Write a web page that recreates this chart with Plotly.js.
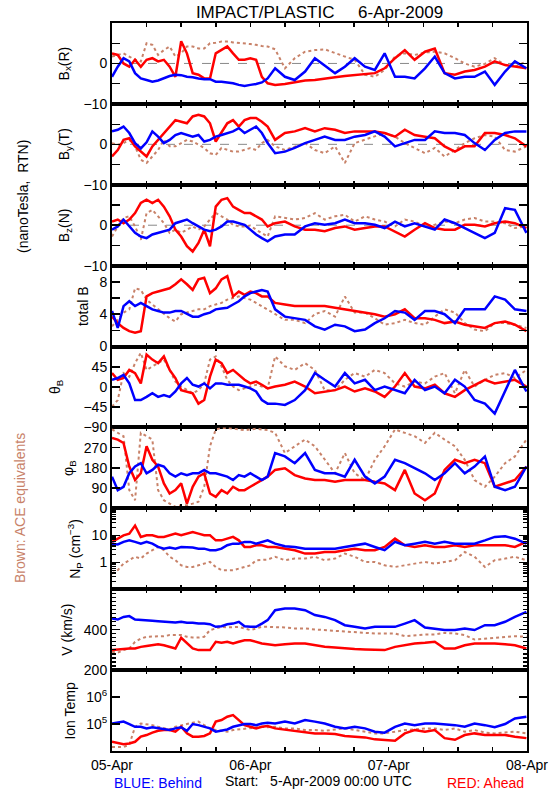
<!DOCTYPE html>
<html>
<head>
<meta charset="utf-8">
<script src="https://cdn.plot.ly/plotly-3.0.1.min.js"></script>
<style>
html,body{margin:0;padding:0;background:#fff;}
#chart{width:550px;height:800px;}
</style>
</head>
<body>
<div id="chart"></div>
<script>
// ---------- data ----------
// hours after 2009-04-05 00:00 UTC
const HOURS = [0,1,2,3,4,5,6,7,8,9,10,11,12,13,14,15,16,17,18,19,20,21,22,23,24,25,26,27,
  28.3,30,31.7,33.5,35.2,36.9,38.7,40.4,42.1,43.9,45.6,47.3,49.1,50.8,52.5,54.3,56,57.7,59.5,61.2,62.9,64.7,66.4,68.2,69.9,71.9];

const DAY_LABELS = ['05-Apr','06-Apr','07-Apr','08-Apr'];

const BX_BLUE = [-3.3,-0.8,1.3,0.5,-2.4,-3.7,-4.1,-4.5,-4.2,-3.7,-3.1,-2.8,-2.9,-3.3,-3.4,-3.7,-3.9,-3.9,-4.5,-4.5,-4.7,-4.9,-5.3,-5.6,-5.3,-5.1,-4.7,-3.7,
  -1.2,-3.3,-4.1,-2.0,1.3,-0.4,-2.4,-0.8,1.3,-0.8,-1.6,2.5,-3.3,-3.3,-3.7,-1.2,1.7,-2.4,-3.7,-3.3,-3.3,-2.0,-5.3,-2.0,0.5,-1.2];
const BX_RED = [2.5,2.1,0.0,-0.8,0.9,-0.8,0.9,1.3,0.5,0.9,-0.8,-3.3,5.5,2.5,-2.4,-2.8,-3.7,-3.7,2.5,3.3,4.2,2.5,0.9,0.9,1.3,0.9,-3.3,-4.9,
  -5.3,-5.1,-4.7,-4.2,-4.1,-3.7,-3.4,-3.1,-2.9,-2.6,-2.4,-1.2,1.3,3.3,0.9,2.9,3.7,-2.4,-2.8,-2.0,-1.6,-0.8,0.5,-0.4,-0.8,-1.2];
const BX_ACE = [1.7,2.1,2.5,1.7,0.9,0.5,5.0,4.6,2.1,3.3,4.2,1.7,2.5,4.2,4.2,3.7,3.7,5.0,5.1,5.4,5.4,5.2,5.1,5.0,4.8,4.6,4.3,4.2,
  3.5,-1.2,1.3,2.9,3.3,3.5,2.5,1.7,0.9,-2.8,-3.3,-1.6,1.7,2.5,2.1,2.7,2.9,2.5,1.3,0.0,-0.8,-0.1,1.3,-0.4,-0.8,0.5];

const BY_BLUE = [3.2,3.6,4.4,2.8,0.3,-1.0,0.5,3.2,1.9,0.3,1.1,2.3,2.8,2.3,1.9,2.3,0.7,1.1,1.9,2.3,2.8,3.2,4.0,2.8,3.6,4.4,2.8,0.3,
  -2.2,-1.8,-0.9,0.3,1.1,1.9,1.1,1.1,1.9,2.3,3.2,1.9,-0.5,0.3,1.1,1.1,3.2,2.8,2.8,2.3,0.3,-1.4,1.1,2.8,3.2,3.2];
const BY_RED = [-3.0,-1.4,1.1,1.5,-0.5,-1.8,-3.0,-0.5,1.1,2.8,4.4,6.0,5.6,5.2,6.9,7.3,6.9,5.2,0.7,2.8,5.2,6.0,4.4,6.0,6.5,6.5,5.6,4.4,
  1.1,2.8,3.2,4.0,3.2,4.0,3.6,2.8,3.2,3.2,3.2,2.8,1.9,3.6,2.3,1.9,1.5,-0.5,-1.8,-0.5,-0.5,2.8,2.8,2.3,1.5,-0.5];
const BY_ACE = [0.3,-0.1,0.3,1.1,-0.5,-3.8,-4.6,-3.0,-1.4,1.1,-0.5,-0.5,0.3,1.1,0.7,-0.1,-0.9,-2.2,-2.6,-0.9,-1.4,-1.8,-1.8,-1.4,-0.9,-1.4,0.3,1.1,
  -0.5,-1.4,-0.5,0.3,-1.4,-2.2,-0.5,-4.6,0.3,1.1,1.9,2.8,1.9,0.3,-0.9,-2.2,-0.9,-3.0,-1.4,0.3,1.5,2.3,1.9,-1.4,-1.8,-0.5];

const BZ_BLUE = [-1.1,-0.3,1.4,-0.3,-1.9,-2.8,-3.2,-2.3,-1.9,-1.5,-1.1,0.5,0.9,1.4,0.5,-0.3,-1.1,-1.5,-1.1,-0.3,0.9,0.9,0.5,0.1,-1.1,-2.3,-3.2,-4.0,
  -2.8,-2.3,-2.3,-0.3,0.5,0.1,0.5,1.4,0.5,0.5,0.1,-0.7,0.9,-0.3,0.5,-0.3,-1.1,1.4,0.5,-0.7,-1.9,-3.2,-1.9,4.2,3.8,-1.9];
const BZ_RED = [0.9,1.4,0.5,1.4,3.0,5.5,6.3,5.5,6.3,4.6,2.2,-1.1,-2.8,-5.2,-6.5,-4.4,-1.1,-5.2,4.6,6.3,6.7,4.6,3.8,3.0,3.0,2.2,1.4,-0.3,
  0.5,0.9,-0.3,-1.1,-1.1,-1.5,-0.7,-0.3,-1.1,-0.7,-0.3,-0.3,-1.5,-2.8,-1.1,0.5,-0.7,-1.1,-1.1,0.1,0.1,-0.3,0.5,0.9,0.5,-0.7];
const BZ_ACE = [-2.8,-0.3,1.8,2.2,-0.3,-3.6,3.0,3.8,2.2,0.5,-1.9,-1.1,-1.9,-1.1,-0.3,-1.1,-0.3,1.4,3.0,2.2,1.4,0.1,-0.3,-0.3,-0.1,-1.1,-1.9,-2.8,
  2.2,1.8,1.4,1.8,3.0,1.4,2.2,2.6,0.9,2.2,1.4,0.9,-0.3,1.4,0.9,-0.3,0.1,0.9,0.5,1.4,1.8,0.9,0.9,0.5,-0.7,-0.3];

const B_BLUE = [4.4,2.3,5.0,5.6,5.0,5.4,5.0,4.6,4.4,4.2,4.2,4.4,4.4,4.0,3.7,3.7,4.0,4.2,4.6,4.7,4.8,5.2,5.6,6.2,6.6,6.8,7.0,6.8,
  4.6,3.7,3.5,3.3,2.5,2.1,2.7,2.5,1.9,2.1,2.9,3.5,4.4,4.2,3.3,4.4,4.4,4.0,2.9,4.6,4.6,4.6,6.2,5.8,4.6,4.4];
const B_RED = [3.7,2.9,2.3,1.9,1.7,1.9,6.2,6.6,6.8,7.0,7.2,7.7,8.3,7.7,7.0,8.3,8.5,6.6,7.2,8.3,8.7,6.2,6.8,6.4,6.8,6.6,6.2,6.2,
  5.4,5.2,5.0,5.0,5.0,5.0,4.8,4.6,4.4,4.2,4.0,3.7,4.0,4.6,3.5,3.5,3.3,2.9,3.1,2.7,2.5,2.3,2.9,3.1,2.7,1.9];
const B_ACE = [2.5,3.3,4.2,4.6,7.2,7.0,5.8,5.2,4.6,4.0,3.5,3.1,4.0,4.2,4.4,4.6,4.6,5.0,5.2,5.4,5.8,6.0,6.2,6.0,5.8,5.4,5.0,4.6,
  4.0,3.3,3.3,2.9,4.0,4.4,3.7,6.2,4.2,4.2,3.5,2.7,2.9,3.3,2.9,2.7,3.7,4.6,4.2,2.9,2.1,1.9,2.9,2.9,2.7,2.3];

const TH_BLUE = [16,20,27,8,-29,-29,-22,-14,-22,-18,-22,-10,8,20,5,1,8,-3,8,8,5,5,5,1,-3,-10,-29,-37,
  -37,-40,-29,-7,31,16,1,31,8,16,-7,1,-7,-14,16,-7,1,-14,16,1,-29,-37,-59,-10,38,-10];
const TH_RED = [31,16,20,38,31,8,72,61,53,68,38,20,-7,-10,-14,-37,-29,23,61,53,31,38,27,16,8,12,5,-3,
  1,5,12,1,-14,-10,-7,1,-10,-3,-10,-22,1,31,1,-3,5,-14,-22,-7,5,16,8,12,16,1];
const TH_ACE = [-44,-29,31,23,53,76,38,46,53,61,38,12,1,-7,-14,-7,8,61,68,46,16,1,-7,-3,1,5,1,-3,
  68,46,38,53,38,-7,-7,16,31,23,38,31,8,1,12,8,23,31,-14,38,1,16,27,31,20,38];

const PH_BLUE = [141,81,96,156,186,201,156,171,194,186,156,141,156,148,156,156,171,156,156,148,141,126,148,141,156,141,126,141,
  246,231,201,246,171,156,156,141,216,141,111,141,216,201,178,156,126,156,201,156,186,231,96,81,96,186];
const PH_RED = [313,306,291,186,126,156,276,216,186,111,66,81,111,21,96,141,156,66,51,81,66,96,81,81,96,111,126,141,
  171,178,148,133,126,126,118,126,126,126,118,111,81,171,66,36,66,171,216,201,216,201,96,111,126,186];
const PH_ACE = [351,336,321,81,36,336,321,306,81,36,21,6,14,14,21,29,96,276,351,358,358,354,351,348,351,354,351,348,
  336,246,276,306,276,216,156,246,156,126,216,276,351,336,321,291,336,306,276,216,126,96,141,201,231,306];

const NP_BLUE = [4.9,4.6,5.7,6.5,5.7,4.9,5.7,4.9,3.7,3.2,3.5,3.2,3.7,3.7,3.5,3.2,3.2,2.8,2.8,3.2,4.3,4.9,4.9,5.7,5.7,4.9,5.7,6.5,
  4.9,3.9,3.7,3.2,3.2,3.2,3.2,3.7,4.3,4.9,3.7,2.8,5.7,4.3,4.9,5.7,4.9,5.7,4.9,4.9,4.9,6.5,8.7,9.2,7.5,4.9];
const NP_RED = [5.7,7.5,10,11.5,23,8.7,10,10,8.7,8.7,10,11.5,10,11.5,13.3,11.5,10,10,6.5,6.5,7.5,8.7,6.5,3.7,3.7,4.3,4.3,3.7,
  3.7,3.2,2.8,2.1,2.1,2.4,2.4,2.8,3.2,2.8,2.8,3.7,7.5,4.3,3.7,4.3,3.7,3.7,4.3,3.7,4.3,4.3,4.3,4.3,3.7,5.7];
const NP_ACE = [0.38,0.51,0.89,1.19,1.6,1.37,2.1,2.8,3.7,2.8,1.6,1.19,0.77,0.67,0.67,0.77,0.89,1.03,0.67,0.51,0.51,0.51,0.58,0.67,0.77,1.19,1.19,1.26,
  1.6,1.19,1.37,1.37,1.6,1.19,1.37,2.1,1.6,1.03,1.03,0.77,0.67,0.77,0.89,1.03,0.89,1.03,1.19,2.4,1.6,0.67,1.19,1.37,1.6,1.19];

const V_BLUE = [455,450,463,467,450,447,447,444,442,439,437,435,439,434,434,430,430,427,414,417,427,430,439,417,414,414,430,447,
  496,505,505,496,472,463,447,422,414,406,414,414,414,430,447,411,406,398,398,406,398,422,422,439,463,488];
const V_RED = [299,302,307,307,307,315,319,323,328,323,315,307,360,332,307,299,299,299,340,335,340,332,340,348,348,340,332,328,
  323,328,332,332,323,315,312,307,304,302,302,299,315,323,332,335,340,307,307,323,332,332,332,328,323,307];
const V_ACE = [291,286,299,307,340,356,365,365,368,368,373,373,373,365,361,361,365,398,406,414,411,414,414,406,398,406,414,414,
  414,411,406,406,401,398,394,389,389,384,381,381,381,368,373,376,376,384,381,373,351,356,361,365,368,365];

const T_BLUE = [105000,112000,123000,100000,79000,79000,69000,76000,69000,63000,60000,69000,76000,56000,100000,91000,79000,69000,52000,56000,63000,79000,91000,100000,100000,91000,105000,112000,
  105000,123000,105000,141000,123000,105000,79000,69000,79000,69000,52000,48000,79000,105000,91000,105000,105000,100000,91000,79000,105000,91000,76000,100000,160000,186000];
const T_RED = [22000,20000,18000,19000,22000,34000,39000,48000,56000,60000,60000,52000,79000,45000,34000,34000,36000,45000,123000,141000,186000,214000,141000,91000,79000,69000,79000,85000,
  69000,63000,56000,52000,45000,45000,43000,36000,34000,32000,27000,26000,24000,45000,60000,52000,60000,30000,26000,39000,45000,39000,39000,39000,34000,30000];
const T_ACE = [14000,14000,14000,17000,79000,105000,100000,91000,79000,69000,63000,79000,91000,100000,112000,123000,91000,69000,60000,56000,52000,60000,63000,69000,69000,76000,79000,76000,
  79000,69000,69000,60000,60000,56000,63000,69000,60000,52000,45000,45000,52000,60000,63000,69000,69000,60000,69000,52000,60000,48000,45000,48000,52000,45000];

// ---------- chart ----------
const FONT = 'Liberation Sans, Arial, Helvetica, sans-serif';
const BLUE = '#0000ff', RED = '#ff0000', BROWN = 'rgb(200,130,105)';
const W = 550, H = 800, L = 112, R = 527, TOP = 23, BOT = 751;
const px2x = p => (p - L) / (R - L);
const px2y = p => (BOT - p) / (BOT - TOP);

const T0 = Date.UTC(2009, 3, 5);
const stamp = h => new Date(T0 + Math.round(h * 3600000)).toISOString().replace('T', ' ').slice(0, 19);
const X = HOURS.map(stamp);

const LOG_MINOR_NP = [0.2,0.3,0.4,0.5,0.6,0.7,0.8,0.9,2,3,4,5,6,7,8,9,20,30,40,50,60,70,80,90];

const PANELS = [
  {series:[BX_ACE,BX_RED,BX_BLUE], title:'B<sub>x</sub>(R)', tx:65, range:[-10,10], tickvals:[-10,0], ticktext:['\u221210','0'], minor:{tickmode:'array', tickvals:[-5,5]}, zero:true},
  {series:[BY_ACE,BY_RED,BY_BLUE], title:'B<sub>y</sub>(T)', tx:65, range:[-10,10], tickvals:[-10,0], ticktext:['\u221210','0'], minor:{tickmode:'array', tickvals:[-5,5]}, zero:true},
  {series:[BZ_ACE,BZ_RED,BZ_BLUE], title:'B<sub>z</sub>(N)', tx:65, range:[-10,10], tickvals:[-10,0], ticktext:['\u221210','0'], minor:{tickmode:'array', tickvals:[-5,5]}, zero:true},
  {series:[B_ACE,B_RED,B_BLUE], title:'total B', tx:83, range:[0,10], tickvals:[0,4,8], ticktext:['0','4','8'], minor:{tickmode:'array', tickvals:[2,6]}},
  {series:[TH_ACE,TH_RED,TH_BLUE], title:'\u03b8<sub>B</sub>', tx:56, range:[-90,90], tickvals:[-90,-45,0,45], ticktext:['\u221290','\u221245','0','45']},
  {series:[PH_ACE,PH_RED,PH_BLUE], title:'\u03c6<sub>B</sub>', tx:69, range:[0,360], tickvals:[0,90,180,270], ticktext:['0','90','180','270']},
  {series:[NP_ACE,NP_RED,NP_BLUE], title:'N<sub>P</sub> (cm<sup>\u22123</sup>)', tx:75, type:'log', range:[-1,2], tickvals:[1,10], ticktext:['1','10'], minor:{tickmode:'array', tickvals:LOG_MINOR_NP, ticklen:4}},
  {series:[V_ACE,V_RED,V_BLUE], title:'V (km/s)', tx:67, range:[200,600], tickvals:[200,400], ticktext:['200','400'], minor:{dtick:20, ticklen:4}},
  {series:[T_ACE,T_RED,T_BLUE], title:'Ion Temp', tx:70, type:'log', range:[4,7], tickvals:[1e5,1e6], ticktext:['10<sup>5</sup>','10<sup>6</sup>']}
];

const N = PANELS.length;
const dayVals = DAY_LABELS.map((_, k) => stamp(24 * k));

const traces = [];
const layout = {
  width: W, height: H,
  margin: {l: L, r: W - R, t: TOP, b: H - BOT, pad: 0},
  paper_bgcolor: '#fff', plot_bgcolor: '#fff',
  showlegend: false,
  font: {family: FONT, size: 14, color: '#000'},
  title: {text: 'IMPACT/PLASTIC\u00a0\u00a0\u00a0\u00a0\u00a06-Apr-2009', x: 0.5, xref: 'paper', y: 1 - 12 / H, yref: 'container', yanchor: 'middle', xanchor: 'center', font: {family: FONT, size: 17, color: '#000'}},
  annotations: [],
  shapes: []
};

PANELS.forEach((p, i) => {
  const n = i + 1;
  const xk = n === 1 ? 'xaxis' : 'xaxis' + n;
  const yk = n === 1 ? 'yaxis' : 'yaxis' + n;
  const xr = 'x' + (n === 1 ? '' : n);
  const yr = 'y' + (n === 1 ? '' : n);
  const d0 = 1 - (i + 1) / N, d1 = 1 - i / N;
  const styles = [
    {color: BROWN, width: 2, dash: 'dot'},
    {color: RED, width: 2.5, dash: 'solid'},
    {color: BLUE, width: 2.5, dash: 'solid'}
  ];
  p.series.forEach((ys, j) => {
    traces.push({x: X, y: ys, xaxis: xr, yaxis: yr, type: 'scatter', mode: 'lines',
      line: styles[j], hoverinfo: 'skip'});
  });
  const bottom = i === N - 1;
  layout[xk] = {
    type: 'date', domain: [0, 1], anchor: yr,
    range: [stamp(0), stamp(72)], fixedrange: true,
    tickmode: 'array', tickvals: dayVals, ticktext: DAY_LABELS,
    showticklabels: bottom, ticklabeloverflow: 'allow',
    ticks: 'inside', ticklen: 4, tickwidth: 1.5, tickcolor: '#000',
    minor: {dtick: 6 * 3600000, tick0: stamp(0), ticks: 'inside', ticklen: 4, tickwidth: 1.5, tickcolor: '#000', showgrid: false},
    showline: true, linecolor: '#000', linewidth: 2, mirror: 'ticks',
    showgrid: false, zeroline: false,
    tickfont: {family: FONT, size: 14, color: '#000'}
  };
  const ya = {
    domain: [d0, d1], anchor: xr, range: p.range, fixedrange: true,
    tickmode: 'array', tickvals: p.tickvals, ticktext: p.ticktext,
    ticks: 'inside', ticklen: 8, tickwidth: 1.5, tickcolor: '#000',
    showline: true, linecolor: '#000', linewidth: 2, mirror: 'ticks',
    showgrid: false, zeroline: false,
    tickfont: {family: FONT, size: 14, color: '#000'}
  };
  if (p.type) ya.type = p.type;
  if (p.minor) ya.minor = Object.assign({ticks: 'inside', ticklen: 8, tickwidth: 1.2, tickcolor: '#000', showgrid: false}, p.minor);
  layout[yk] = ya;
  if (p.zero) {
    layout.shapes.push({type: 'line', xref: 'paper', x0: 0, x1: 1, yref: yr, y0: 0, y1: 0,
      line: {color: '#888888', width: 1, dash: 'dash'}, layer: 'below'});
  }
  const cy = TOP + (i + 0.5) * (BOT - TOP) / N;
  layout.annotations.push({text: p.title, xref: 'paper', yref: 'paper', x: px2x(p.tx), y: px2y(cy),
    textangle: -90, showarrow: false, xanchor: 'center', yanchor: 'middle',
    font: {family: FONT, size: 14, color: '#000'}});
});

layout.annotations.push(
  {text: '(nanoTesla,\u00a0\u00a0RTN)', xref: 'paper', yref: 'paper', x: px2x(23), y: px2y(197), textangle: -90, showarrow: false,
    xanchor: 'center', yanchor: 'middle', font: {family: FONT, size: 14, color: '#000'}},
  {text: 'Brown: ACE equivalents', xref: 'paper', yref: 'paper', x: px2x(20), y: px2y(508), textangle: -90, showarrow: false,
    xanchor: 'center', yanchor: 'middle', font: {family: FONT, size: 14, color: BROWN}},
  {text: 'BLUE: Behind', xref: 'paper', yref: 'paper', x: px2x(112), y: px2y(783), showarrow: false,
    xanchor: 'left', yanchor: 'middle', font: {family: FONT, size: 14, color: BLUE}},
  {text: 'Start:\u00a0\u00a0\u00a05-Apr-2009 00:00 UTC', xref: 'paper', yref: 'paper', x: px2x(318), y: px2y(781), showarrow: false,
    xanchor: 'center', yanchor: 'middle', font: {family: FONT, size: 14, color: '#000'}},
  {text: 'RED: Ahead', xref: 'paper', yref: 'paper', x: px2x(526), y: px2y(783), showarrow: false,
    xanchor: 'right', yanchor: 'middle', font: {family: FONT, size: 14, color: RED}}
);

Plotly.newPlot('chart', traces, layout, {displayModeBar: false, staticPlot: true});
</script>
</body>
</html>
